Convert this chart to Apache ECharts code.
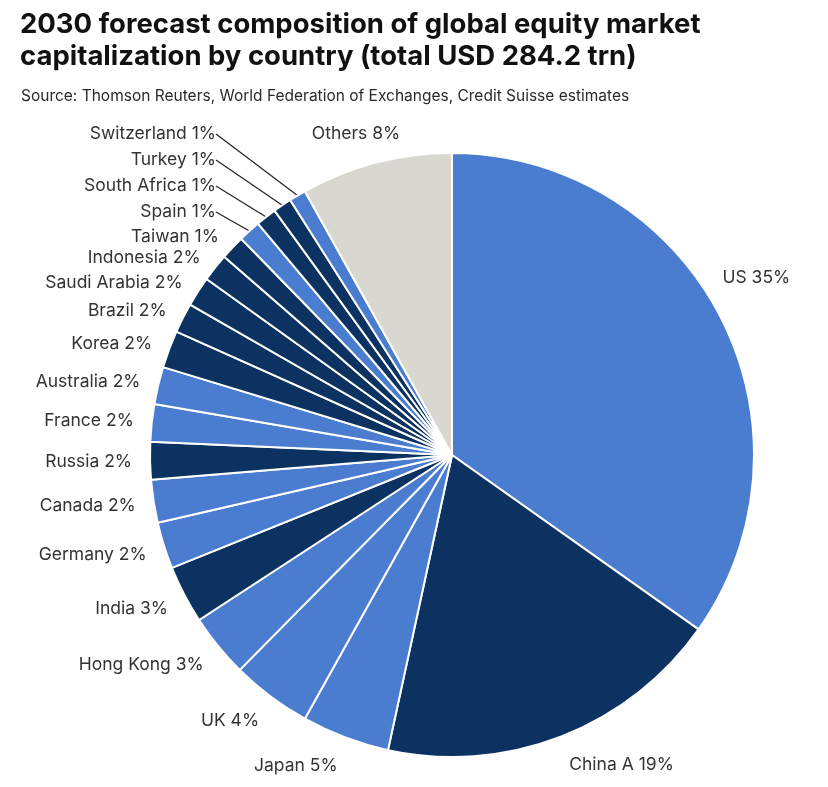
<!DOCTYPE html>
<html>
<head>
<meta charset="utf-8">
<script src="https://cdn.jsdelivr.net/npm/echarts@6/dist/echarts.min.js"></script>
<style>
html,body{margin:0;padding:0;background:#fff;}
#main{width:828px;height:787px;}
</style>
</head>
<body>
<div id="main"></div>
<script>
// 2030 forecast share of global equity market cap (clockwise from 12 o'clock)
var countries = ['US', 'China A', 'Japan', 'UK', 'Hong Kong', 'India', 'Germany', 'Canada',
    'Russia', 'France', 'Australia', 'Korea', 'Brazil', 'Saudi Arabia', 'Indonesia',
    'Taiwan', 'Spain', 'South Africa', 'Turkey', 'Switzerland', 'Others'];
// slice sizes, %
var shares = [34.8, 18.6, 4.7, 4.3, 3.4, 3.1, 2.5, 2.3, 2.0, 2.0, 2.0, 2.0, 1.6, 1.6, 1.5,
    1.3, 1.2, 1.1, 1.0, 0.9, 8.1];
// percentages as printed on the labels
var printedPct = [35, 19, 5, 4, 3, 3, 2, 2, 2, 2, 2, 2, 2, 2, 2, 1, 1, 1, 1, 1, 8];
// shade of each slice: m = mid blue, d = dark navy, o = grey
var shades = ['m', 'd', 'm', 'm', 'm', 'd', 'm', 'm', 'd', 'm', 'm', 'd', 'd', 'd', 'd',
    'd', 'm', 'd', 'd', 'm', 'o'];
// small slices whose labels are stacked above Taiwan with a leader line
var leaders = ['Spain', 'South Africa', 'Turkey', 'Switzerland'];

var shadeColors = {m: '#4a7dcf', d: '#0b3261', o: '#d9d8d0'};
var FONT = 'Inter, "Liberation Sans", sans-serif';

var total = 0;
for (var t = 0; t < shares.length; t++) total += shares[t];

// vertical part of the slice's mid direction (+ = downwards)
function midDirY(idx) {
    var cum = 0;
    for (var j = 0; j < idx; j++) cum += shares[j];
    var a = (cum + shares[idx] / 2) / total * 2 * Math.PI;
    return -Math.cos(a);
}

var pieData = [];
for (var i = 0; i < countries.length; i++) {
    var item = {
        name: countries[i],
        value: shares[i],
        itemStyle: {color: shadeColors[shades[i]]}
    };
    if (leaders.indexOf(countries[i]) >= 0) {
        item.labelLine = {show: true};
    }
    pieData.push(item);
}

var myChart = echarts.init(document.getElementById('main'));
var option = {
    backgroundColor: '#fff',
    title: [{
        text: '2030 forecast composition of global equity market\ncapitalization by country (total USD 284.2 trn)',
        left: 15,
        top: 4,
        textStyle: {
            fontFamily: FONT,
            fontSize: 27.5,
            fontWeight: 'bold',
            color: '#111',
            lineHeight: 32
        }
    }, {
        text: 'Source: Thomson Reuters, World Federation of Exchanges, Credit Suisse estimates',
        left: 16,
        top: 83,
        textStyle: {
            fontFamily: FONT,
            fontSize: 15.5,
            fontWeight: 'normal',
            color: '#2a2a2a'
        }
    }],
    series: [{
        type: 'pie',
        center: [452, 455],
        radius: [0, 302],
        startAngle: 90,
        clockwise: true,
        avoidLabelOverlap: false,
        itemStyle: {
            borderColor: '#fff',
            borderWidth: 2
        },
        label: {
            show: true,
            position: 'outside',
            formatter: function (p) {
                return p.name + ' ' + printedPct[p.dataIndex] + '%';
            },
            fontFamily: FONT,
            fontSize: 17.5,
            color: '#333',
            distanceToLabelLine: 2
        },
        labelLine: {
            show: false,
            length: 16,
            length2: 0,
            lineStyle: {color: '#222', width: 1.2}
        },
        labelLayout: function (p) {
            var name = countries[p.dataIndex];
            var k = leaders.indexOf(name);
            if (k >= 0) {
                // stacked column right-aligned with the Taiwan label
                return {x: 216, y: 212 - k * 26, align: 'right', verticalAlign: 'middle'};
            }
            if (name === 'Others') {
                return {x: 356, y: 134, align: 'center', verticalAlign: 'middle'};
            }
            if (name === 'US') {
                return {dx: -14, dy: -31};
            }
            // push labels of the lower half a little further out
            return {dy: Math.max(0, midDirY(p.dataIndex)) * 14};
        },
        emphasis: {disabled: true},
        silent: true,
        data: pieData
    }]
};
myChart.setOption(option);
</script>
</body>
</html>
